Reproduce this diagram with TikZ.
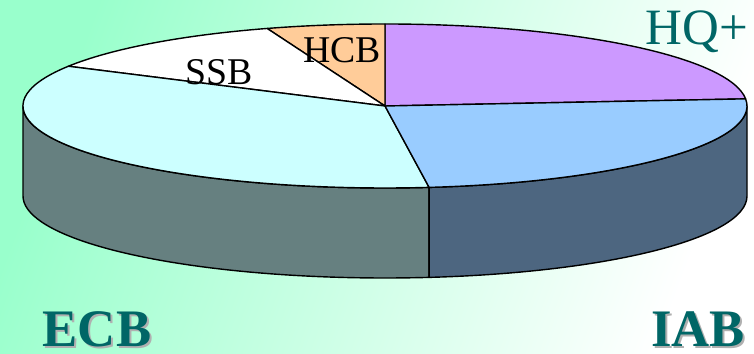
\documentclass[tikz,border=0pt]{standalone}
\usepackage{fontspec}
\setmainfont{Liberation Serif}

\definecolor{bggreen}{HTML}{99FFCC}
\definecolor{hqcol}{HTML}{CC99FF}
\definecolor{hcbcol}{HTML}{FFCC99}
\definecolor{ecbcol}{HTML}{CCFFFF}
\definecolor{iabcol}{HTML}{99CCFF}
\definecolor{ecbside}{HTML}{668080}
\definecolor{iabside}{HTML}{4D6680}
\definecolor{teal}{HTML}{006666}
\definecolor{shadowgray}{HTML}{B0B0B0}

\tikzset{
  slice/.style={draw=black, line width=0.8pt, line join=round},
  inlabel/.style={font=\fontsize{21.5}{24}\selectfont, anchor=base, inner sep=0pt},
  bigname/.style={font=\fontsize{30}{34}\selectfont\bfseries, anchor=base, inner sep=0pt},
}

\begin{document}
\begin{tikzpicture}[x=0.02cm, y=0.02cm]

    % background
    \useasboundingbox (0,0) rectangle (754,354);
    \shade[left color=bggreen, right color=white, shading angle=70] (0,0) rectangle (754,354);

    \begin{scope}[shift={(385,248)}]

    % side ECB
    \filldraw[slice, fill=ecbside] (180:362 and 82)
        arc[start angle=180, end angle=277, x radius=362, y radius=82]
        -- ++(0,-90)
        arc[start angle=277, end angle=180, x radius=362, y radius=82] -- cycle;

    % side IAB
    \filldraw[slice, fill=iabside] (277:362 and 82)
        arc[start angle=277, end angle=360, x radius=362, y radius=82]
        -- ++(0,-90)
        arc[start angle=360, end angle=277, x radius=362, y radius=82] -- cycle;

    % HQ+
    \filldraw[slice, fill=hqcol] (0,0) -- (5:362 and 82)
        arc[start angle=5, end angle=90, x radius=362, y radius=82] -- cycle;

    % HCB
    \filldraw[slice, fill=hcbcol] (0,0) -- (90:362 and 82)
        arc[start angle=90, end angle=109, x radius=362, y radius=82] -- cycle;

    % SSB
    \filldraw[slice, fill=white] (0,0) -- (109:362 and 82)
        arc[start angle=109, end angle=151, x radius=362, y radius=82] -- cycle;

    % ECB
    \filldraw[slice, fill=ecbcol] (0,0) -- (151:362 and 82)
        arc[start angle=151, end angle=277, x radius=362, y radius=82] -- cycle;

    % IAB
    \filldraw[slice, fill=iabcol] (0,0) -- (277:362 and 82)
        arc[start angle=277, end angle=365, x radius=362, y radius=82] -- cycle;

    \end{scope}

    % texts
    \node[inlabel] (ssb) at (219,269) {SSB};
    \node[inlabel] (hcb) at (342,291) {HCB};
    \node[font=\fontsize{29}{32}\selectfont, anchor=base, inner sep=0pt, text=teal] (hq) at (697,309) {HQ+};

    \node[bigname, text=shadowgray] (ecbshadow) at (99,5) {ECB};
    \node[bigname, text=teal] (ecb) at (97,7) {ECB};
    \node[bigname, text=shadowgray] (iabshadow) at (700,5) {IAB};
    \node[bigname, text=teal] (iab) at (698,7) {IAB};

\end{tikzpicture}
\end{document}
